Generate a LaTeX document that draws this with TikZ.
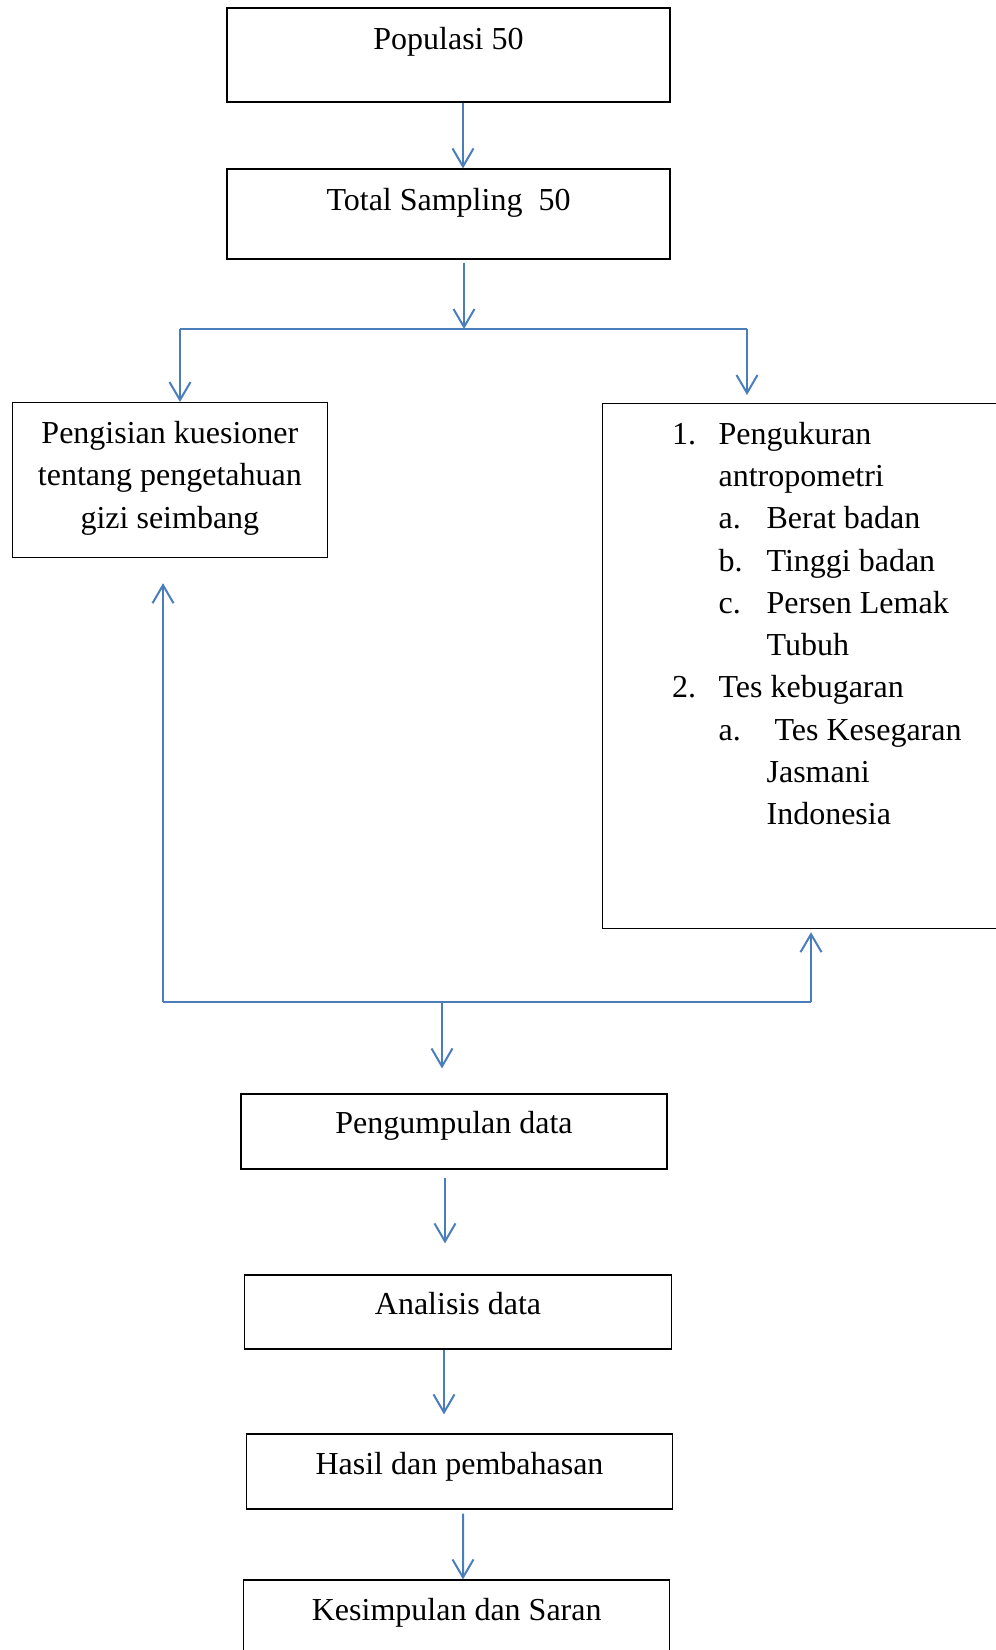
\documentclass[tikz,border=0pt]{standalone}
\usepackage{fontspec}
\setmainfont{Liberation Serif}
\usetikzlibrary{arrows.meta, positioning, calc}
\definecolor{flowblue}{RGB}{74,126,187}
\newcommand{\stepno}[2]{\makebox[58.2pt][l]{\hspace*{35pt}#1}#2}
\newcommand{\substep}[2]{\makebox[82.2pt][l]{\hspace*{58.2pt}#1}#2}
\newcommand{\stepcont}[1]{\hspace*{58.2pt}#1}
\newcommand{\substepcont}[1]{\hspace*{82.2pt}#1}

\begin{document}
\begin{tikzpicture}[x=0.5pt, y=-0.5pt,
    box/.style={draw, line width=0.6pt, inner sep=0pt, font=\fontsize{16pt}{21.15pt}\selectfont},
    flow/.style={draw=flowblue, line width=1pt, -{Straight Barb[length=9pt,width=10.5pt]}},
    link/.style={draw=flowblue, line width=1pt}]
    \useasboundingbox (0,0) rectangle (996,1650);

    % Population and sample
    \node[box, anchor=base, minimum width=221.5pt, text height=20.5pt, text depth=26.5pt] (pop) at (448.5,49) {Populasi 50};
    \node[box, anchor=base, minimum width=221.5pt, text height=20.5pt, text depth=24.5pt] (samp) at (448.5,210) {Total Sampling\ \ 50};

    % Instruments
    \node[box, anchor=north west, minimum width=157.8pt, text height=20.5pt, text depth=57pt] (kues) at (11.5,402) {\parbox[t]{157.8pt}{\centering Pengisian kuesioner\\
        tentang pengetahuan\\
        gizi seimbang}};
    \node[box, anchor=north west, minimum width=204pt, text height=20.25pt, text depth=242.25pt] (ukur) at (601.6,403) {\parbox[t]{204pt}{\stepno{1.}{Pengukuran}\\
        \stepcont{antropometri}\\
        \substep{a.}{Berat badan}\\
        \substep{b.}{Tinggi badan}\\
        \substep{c.}{Persen Lemak}\\
        \substepcont{Tubuh}\\
        \stepno{2.}{Tes kebugaran}\\
        \substep{a.}{\hspace*{4pt}Tes Kesegaran}\\
        \substepcont{Jasmani}\\
        \substepcont{Indonesia}}};

    % Data steps
    \node[box, anchor=base, minimum width=213pt, text height=19.5pt, text depth=18pt] (kumpul) at (454,1133) {Pengumpulan data};
    \node[box, anchor=base, minimum width=213.25pt, text height=19.5pt, text depth=17.5pt] (analisis) at (458,1314) {Analisis data};
    \node[box, anchor=base, minimum width=213pt, text height=20pt, text depth=17.5pt] (hasil) at (459.5,1474) {Hasil dan pembahasan};
    \node[box, anchor=base, minimum width=213pt, text height=20pt, text depth=30pt] (simpul) at (456.7,1620) {Kesimpulan dan Saran};

    % Top arrows and fork
    \coordinate (fork) at (464,329);
    \coordinate (forkL) at (180,329);
    \coordinate (forkR) at (747,329);
    \draw[flow] ([xshift=7.25pt]pop.south) -- ([xshift=7.25pt]samp.north);
    \draw[flow] ([xshift=7.75pt,yshift=-1.5pt]samp.south) -- (fork);
    \draw[link] (forkL) -- (forkR);
    \draw[flow] (forkL) -- (forkL |- kues.north);
    \draw[flow] (forkR) -- ([yshift=4pt]forkR |- ukur.north);

    % Join
    \coordinate (joinL) at (163,1002);
    \coordinate (joinM) at (442,1002);
    \coordinate (joinR) at (811,1002);
    \draw[link] (joinL) -- (joinR);
    \draw[flow] (joinL) -- ([yshift=-12.5pt]joinL |- kues.south);
    \draw[flow] (joinR) -- ([yshift=-1.5pt]joinR |- ukur.south);
    \draw[flow] (joinM) -- ([yshift=12.5pt]joinM |- kumpul.north);

    % Chain arrows
    \draw[flow] ([xshift=-4.5pt,yshift=-4pt]kumpul.south) -- ([xshift=-6.5pt,yshift=15.5pt]analisis.north);
    \draw[flow] ([xshift=-7pt]analisis.south) -- ([xshift=-7.75pt,yshift=9.5pt]hasil.north);
    \draw[flow] ([xshift=1.75pt,yshift=-2pt]hasil.south) -- ([xshift=3.15pt]simpul.north);
\end{tikzpicture}
\end{document}
